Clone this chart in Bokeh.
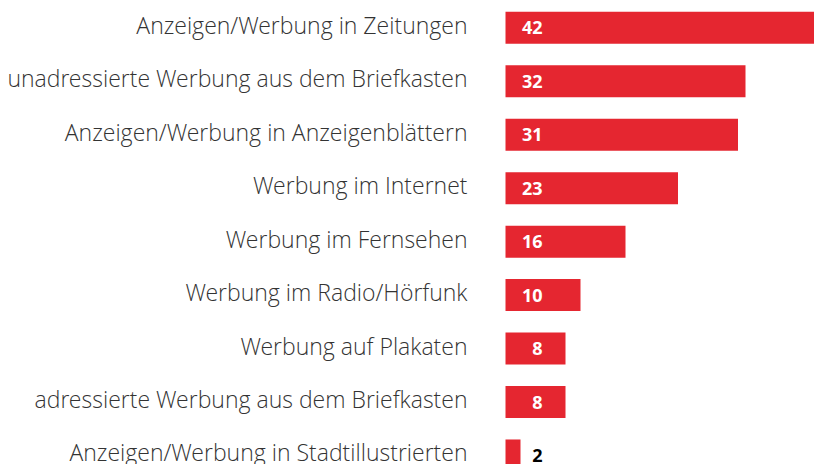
from bokeh.plotting import figure
from bokeh.models import ColumnDataSource, Range1d
from bokeh.core.properties import value
from bokeh.embed import file_html
from bokeh.resources import INLINE

categories = [
    "Anzeigen/Werbung in Zeitungen",
    "unadressierte Werbung aus dem Briefkasten",
    "Anzeigen/Werbung in Anzeigenblättern",
    "Werbung im Internet",
    "Werbung im Fernsehen",
    "Werbung im Radio/Hörfunk",
    "Werbung auf Plakaten",
    "adressierte Werbung aus dem Briefkasten",
    "Anzeigen/Werbung in Stadtillustrierten",
]
values = [42, 32, 31, 23, 16, 10, 8, 8, 2]

W, H = 814, 464
px_per_unit = 7.5
zero_px = 505.0          # frame x of the value 0
row_px = 53.46
first_row_px = 27.3

x0 = -zero_px / px_per_unit
x1 = (W - zero_px) / px_per_unit
y_top = -first_row_px / row_px
y_bot = y_top + H / row_px

label_x = 37 / px_per_unit
ys = list(range(len(categories)))
src = ColumnDataSource(dict(
    y=ys,
    v=values,
    cat=categories,
    lbl=[str(v) for v in values],
    lx=[label_x] * len(values),
    lc=["white" if v > label_x else "black" for v in values],
    tx=[-38 / px_per_unit] * len(values),
))

p = figure(width=W, height=H, output_backend="svg", toolbar_location=None,
           x_range=Range1d(x0, x1), y_range=Range1d(y_bot, y_top),
           min_border=0, outline_line_color=None)
p.axis.visible = False
p.grid.visible = False
p.background_fill_color = "white"

p.hbar(y="y", left=0, right="v", height=32 / row_px, source=src,
       fill_color="#E52630", line_color=None)

p.text(x="tx", y="y", text="cat", source=src, text_align="right",
       text_baseline="middle", text_font=value("Open Sans Light, Open Sans"),
       text_font_size="23px", text_color="#333333", y_offset=-3)

p.text(x="lx", y="y", text="lbl", source=src, text_align="right",
       text_baseline="middle", text_font=value("Open Sans"),
       text_font_style="bold", text_font_size="18px", text_color="lc")

open("out.html", "w").write(file_html(p, INLINE))
